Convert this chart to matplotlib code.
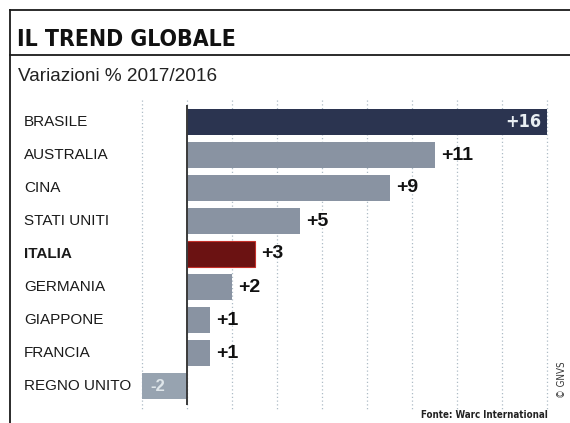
"""
Horizontal bar chart: percentage change 2017/2016 by country.
Saves out.png (570x423).
"""
import matplotlib
matplotlib.use('Agg')
import matplotlib.pyplot as plt
from matplotlib.lines import Line2D
from matplotlib.transforms import blended_transform_factory

countries = ['BRASILE', 'AUSTRALIA', 'CINA', 'STATI UNITI', 'ITALIA',
             'GERMANIA', 'GIAPPONE', 'FRANCIA', 'REGNO UNITO']
changes = [16, 11, 9, 5, 3, 2, 1, 1, -2]
grid_ticks = [-2, 0, 2, 4, 6, 8, 10, 12, 14, 16]

W, H = 570, 423
SANS = ['Liberation Sans', 'DejaVu Sans']
COND = ['DejaVu Sans']


def fx(x):
    return x / W


def fy(y):
    return 1 - y / H


fig = plt.figure(figsize=(W / 100, H / 100), dpi=100)
fig.patch.set_facecolor('white')

# frame: left rule, top rule, rule under the title
for (x0, y0, x1, y1) in [(10, 10, 10, H), (10, 10, W, 10), (10, 55, W, 55)]:
    fig.add_artist(Line2D([fx(x0), fx(x1)], [fy(y0), fy(y1)],
                          color='#1a1a1a', lw=1.3, transform=fig.transFigure))

fig.text(fx(17), fy(46), 'IL TREND GLOBALE', family=COND, stretch='condensed',
         weight='bold', fontsize=16.5, color='#111111', ha='left', va='baseline')
fig.text(fx(18), fy(81), 'Variazioni % 2017/2016', family=SANS,
         fontsize=13.7, color='#222222', ha='left', va='baseline')

# plotting area: x=0 at 187px, 22.5 px per unit; rows 33px apart from y=122
left, right, top, bottom = 130, 560, 100, 410
ax = fig.add_axes([fx(left), fy(bottom), (right - left) / W, (bottom - top) / H])
ax.set_xlim((left - 187) / 22.5, (right - 187) / 22.5)
ax.set_ylim((bottom - 122) / 33, (top - 122) / 33)
ax.axis('off')

ax.vlines(grid_ticks, (top - 122) / 33, (bottom - 122) / 33, colors='#aebcc6',
          linestyles=(0, (1, 2)), lw=0.9, zorder=1)
ax.vlines(0, (105 - 122) / 33, (405 - 122) / 33, colors='#3a3a3a', lw=1.4, zorder=4)

bar_colors = []
for name, val in zip(countries, changes):
    if name == 'ITALIA':
        bar_colors.append('#6b1212')
    elif val == max(changes):
        bar_colors.append('#2b3450')
    elif val < 0:
        bar_colors.append('#97a3b0')
    else:
        bar_colors.append('#8993a2')

rows = list(range(len(countries)))
bars = ax.barh(rows, changes, height=0.76, color=bar_colors, zorder=3)
for b, name in zip(bars, countries):
    if name == 'ITALIA':
        b.set_edgecolor('#c4302a')
        b.set_linewidth(0.8)

label_tf = blended_transform_factory(fig.transFigure, ax.transData)
for i, (name, val) in enumerate(zip(countries, changes)):
    ax.text(fx(24), i, name, transform=label_tf, family=SANS,
            weight='bold' if name == 'ITALIA' else 'normal',
            fontsize=11, color='#1a1a1a', ha='left', va='center')
    if val == max(changes):
        ax.text(val - 0.25, i, f'+{val}', family=COND, stretch='condensed',
                weight='bold', fontsize=13, color='#e8eef2', ha='right',
                va='center', zorder=5)
    elif val < 0:
        ax.text(val * 0.65, i, f'{val}', family=SANS, weight='bold',
                fontsize=12, color='#dfe6ea', ha='center', va='center', zorder=5)
    else:
        ax.text(val + 0.28, i, f'+{val}', family=SANS, weight='bold',
                fontsize=14, color='#111111', ha='left', va='center', zorder=5)

fig.text(fx(548), fy(418), 'Fonte: Warc International', family=COND,
         stretch='condensed', weight='bold', fontsize=7, color='#222222',
         ha='right', va='baseline')
fig.text(fx(562), fy(380), '© GNVS', family=COND, stretch='condensed',
         fontsize=7, color='#333333', rotation=90, ha='center', va='center')

fig.savefig('out.png', dpi=100, facecolor='white')
